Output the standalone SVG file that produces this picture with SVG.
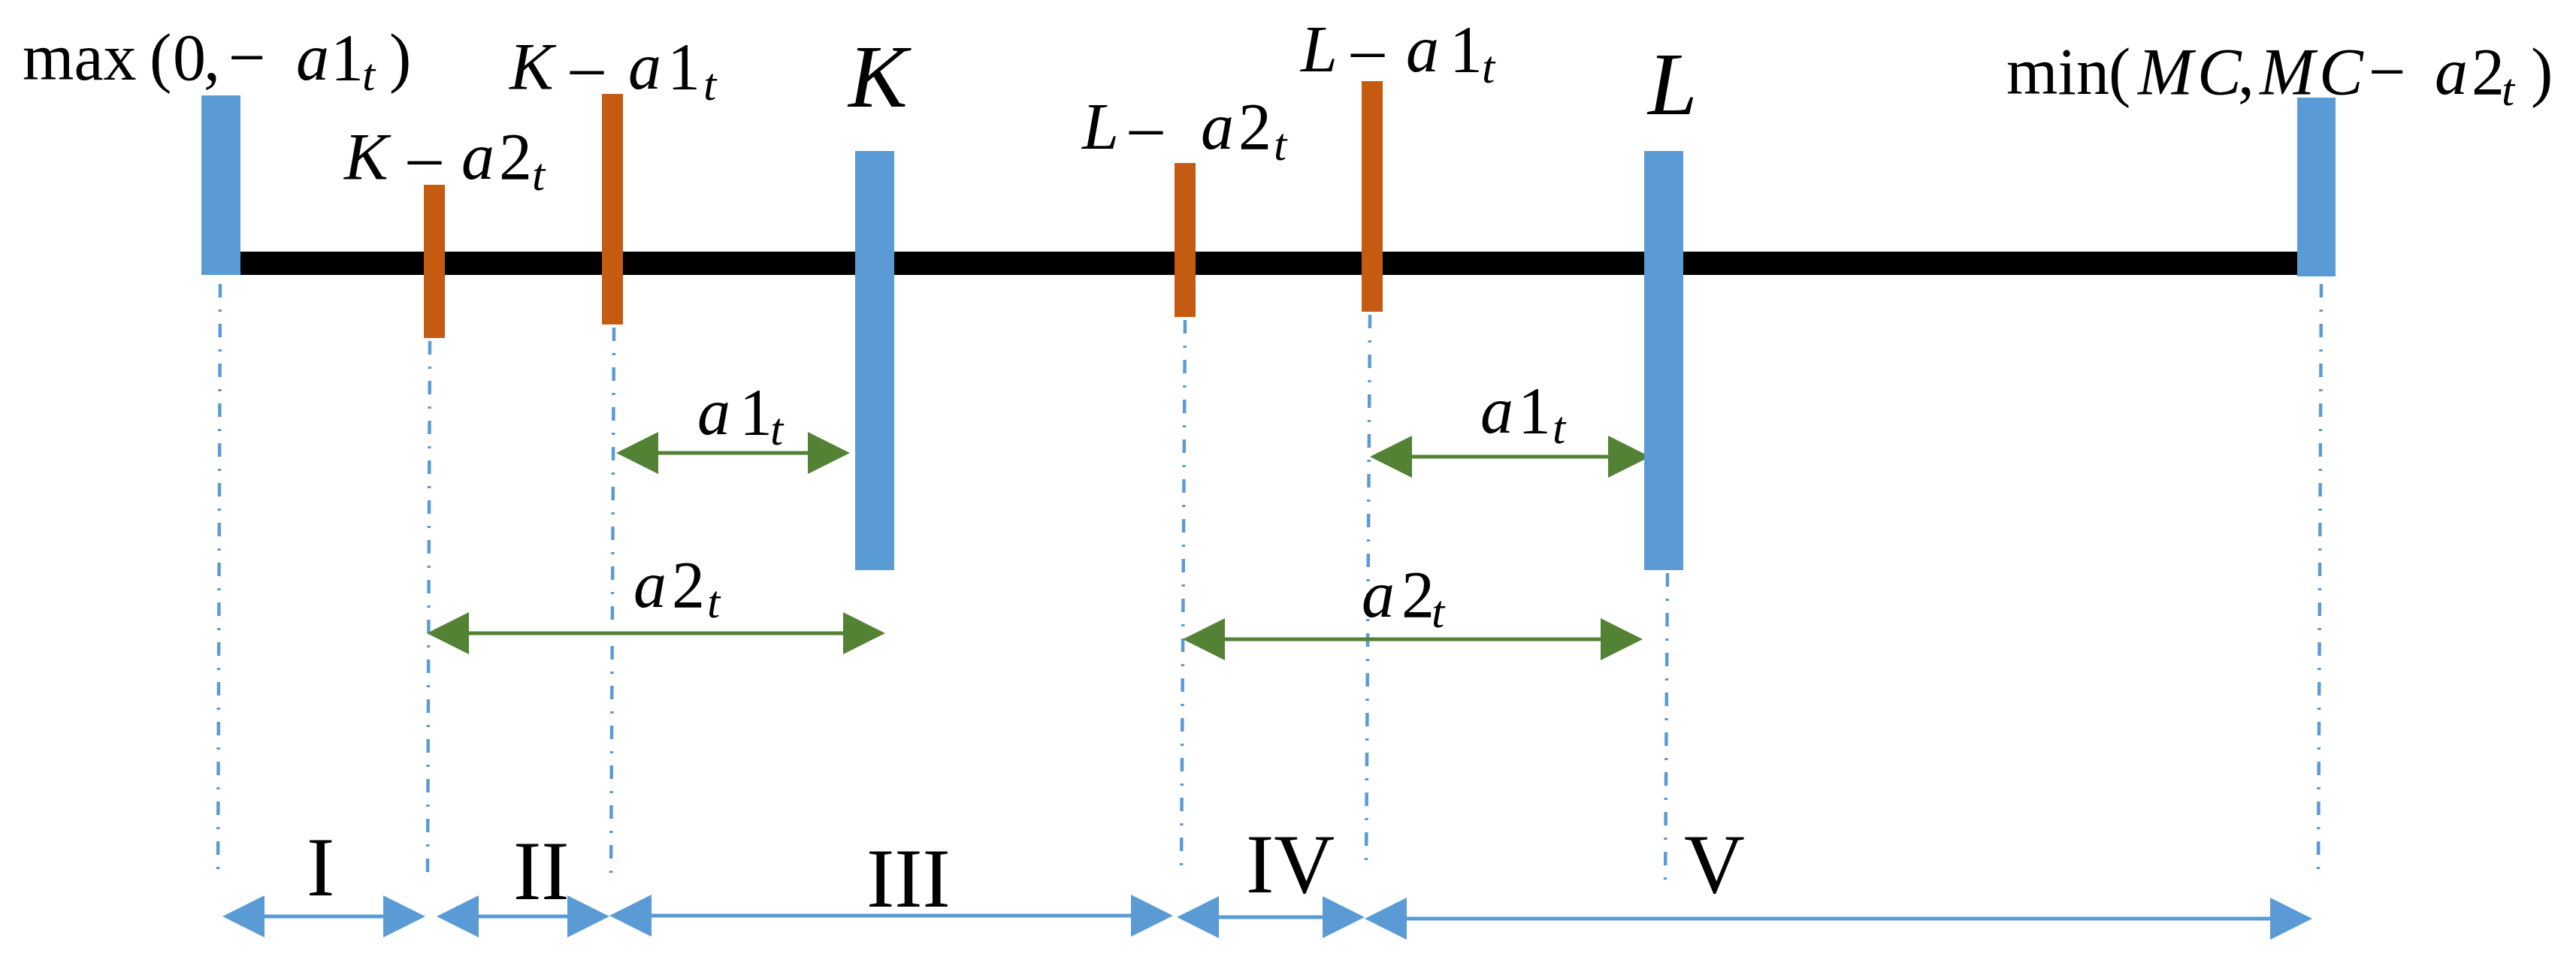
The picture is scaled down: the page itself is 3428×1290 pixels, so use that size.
<svg xmlns="http://www.w3.org/2000/svg" width="3428" height="1290" viewBox="0 0 3428 1290">
<style>
  text { font-family: "Liberation Serif", "DejaVu Serif", serif; fill: #000; }
  .lbl { font-size: 88px; }
  .big { font-size: 118px; font-style: italic; }
  .rom { font-size: 112px; }
  .it { font-style: italic; }
  .sub { font-size: 62px; font-style: italic; }
  .blue { fill: #5B9BD5; }
  .orange { fill: #C55A11; }
  .guide { stroke: #5B9BD5; stroke-width: 4.5; stroke-dasharray: 18 16 3 16; fill: none; }
  .garrow { stroke: #548235; stroke-width: 5; marker-start: url(#gHead); marker-end: url(#gHead); }
  .barrow { stroke: #5B9BD5; stroke-width: 5; marker-start: url(#bHead); marker-end: url(#bHead); }
</style>
<defs>
  <marker id="gHead" markerUnits="userSpaceOnUse" markerWidth="56" markerHeight="56" refX="16" refY="28" orient="auto-start-reverse" viewBox="0 0 56 56">
    <path d="M0,0 L56,28 L0,56 z" fill="#548235"/>
  </marker>
  <marker id="bHead" markerUnits="userSpaceOnUse" markerWidth="56" markerHeight="56" refX="16" refY="28" orient="auto-start-reverse" viewBox="0 0 56 56">
    <path d="M0,0 L56,28 L0,56 z" fill="#5B9BD5"/>
  </marker>
</defs>
<rect width="3428" height="1290" fill="#fff"/>

<g id="axis">
  <rect x="300" y="335" width="2780" height="31" fill="#000"/>
</g>

<g id="connectors">
  <line class="guide" x1="293" y1="378" x2="290" y2="1164"/>
  <line class="guide" x1="572" y1="454" x2="569" y2="1161"/>
  <line class="guide" x1="817" y1="436" x2="813" y2="1163"/>
  <line class="guide" x1="1577" y1="426" x2="1572" y2="1157"/>
  <line class="guide" x1="1823" y1="419" x2="1818" y2="1157"/>
  <line class="guide" x1="2219" y1="763" x2="2216" y2="1180"/>
  <line class="guide" x1="3089" y1="378" x2="3085" y2="1162"/>

  <line class="garrow" x1="860" y1="603" x2="1091" y2="603"/>
  <line class="garrow" x1="608" y1="843" x2="1138" y2="843"/>
  <line class="garrow" x1="1863" y1="608" x2="2156" y2="608"/>
  <line class="garrow" x1="1614" y1="851" x2="2146" y2="851"/>

  <line class="barrow" x1="336" y1="1220" x2="526" y2="1220"/>
  <line class="barrow" x1="621" y1="1220" x2="771" y2="1220"/>
  <line class="barrow" x1="851" y1="1219" x2="1521" y2="1219"/>
  <line class="barrow" x1="1606" y1="1221" x2="1776" y2="1221"/>
  <line class="barrow" x1="1856" y1="1223" x2="3037" y2="1223"/>
</g>

<g id="node-max">
  <rect class="blue" x="268" y="127" width="52" height="239"/>
  <text class="lbl" y="106"><tspan x="30">max</tspan><tspan x="199">(</tspan><tspan x="230">0</tspan><tspan x="271">,</tspan><tspan x="304">−</tspan><tspan x="394" class="it">a</tspan><tspan x="440">1</tspan><tspan x="482" y="120" class="sub">t</tspan><tspan x="518" y="106">)</tspan></text>
</g>

<g id="node-K-a2">
  <rect class="orange" x="564" y="246" width="28" height="204"/>
  <text class="lbl" y="238"><tspan x="458" class="it">K</tspan><tspan x="543">–</tspan><tspan x="614" class="it">a</tspan><tspan x="664">2</tspan><tspan x="708" y="253" class="sub">t</tspan></text>
</g>

<g id="node-K-a1">
  <rect class="orange" x="801" y="125" width="28" height="307"/>
  <text class="lbl" y="118"><tspan x="678" class="it">K</tspan><tspan x="759">–</tspan><tspan x="836" class="it">a</tspan><tspan x="888">1</tspan><tspan x="936" y="133" class="sub">t</tspan></text>
</g>

<g id="node-K">
  <rect class="blue" x="1138" y="201" width="52" height="558"/>
  <text class="big" x="1129" y="142">K</text>
</g>

<g id="node-L-a2">
  <rect class="orange" x="1563" y="217" width="28" height="205"/>
  <text class="lbl" y="198"><tspan x="1440" class="it">L</tspan><tspan x="1503">–</tspan><tspan x="1598" class="it">a</tspan><tspan x="1648">2</tspan><tspan x="1695" y="213" class="sub">t</tspan></text>
</g>

<g id="node-L-a1">
  <rect class="orange" x="1812" y="108" width="28" height="307"/>
  <text class="lbl" y="95"><tspan x="1731" class="it">L</tspan><tspan x="1798">–</tspan><tspan x="1871" class="it">a</tspan><tspan x="1929">1</tspan><tspan x="1972" y="110" class="sub">t</tspan></text>
</g>

<g id="node-L">
  <rect class="blue" x="2188" y="201" width="52" height="558"/>
  <text class="big" x="2193" y="152">L</text>
</g>

<g id="node-min">
  <rect class="blue" x="3057" y="130" width="51" height="238"/>
  <text class="lbl" y="125"><tspan x="2670">min</tspan><tspan x="2806">(</tspan><tspan x="2845" class="it">M</tspan><tspan x="2924" class="it">C</tspan><tspan x="2978">,</tspan><tspan x="3007" class="it">M</tspan><tspan x="3086" class="it">C</tspan><tspan x="3152">−</tspan><tspan x="3240" class="it">a</tspan><tspan x="3289">2</tspan><tspan x="3329" y="140" class="sub">t</tspan><tspan x="3368" y="125">)</tspan></text>
</g>

<g id="labels-distance">
  <text class="lbl" y="578"><tspan x="928" class="it">a</tspan><tspan x="984">1</tspan><tspan x="1025" y="592" class="sub">t</tspan></text>
  <text class="lbl" y="808"><tspan x="843" class="it">a</tspan><tspan x="894">2</tspan><tspan x="941" y="822" class="sub">t</tspan></text>
  <text class="lbl" y="576"><tspan x="1970" class="it">a</tspan><tspan x="2020">1</tspan><tspan x="2066" y="590" class="sub">t</tspan></text>
  <text class="lbl" y="821"><tspan x="1812" class="it">a</tspan><tspan x="1865">2</tspan><tspan x="1905" y="835" class="sub">t</tspan></text>
</g>

<g id="labels-regions">
  <text class="rom" x="408" y="1192">I</text>
  <text class="rom" x="683" y="1197">II</text>
  <text class="rom" x="1153" y="1207">III</text>
  <text class="rom" x="1658" y="1188">IV</text>
  <text class="rom" x="2241" y="1188">V</text>
</g>
</svg>
